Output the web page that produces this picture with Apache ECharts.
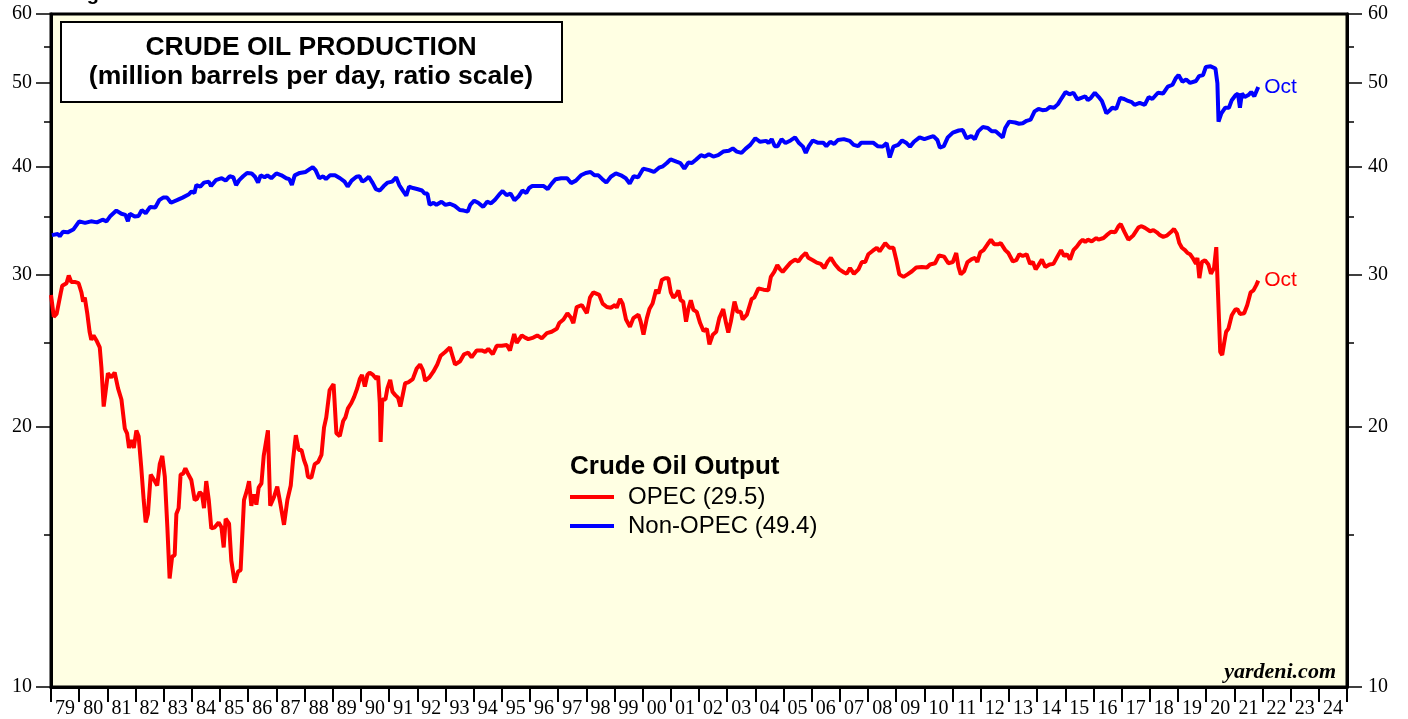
<!DOCTYPE html>
<html>
<head>
<meta charset="utf-8">
<script src="https://cdn.jsdelivr.net/npm/echarts@6.0.0/dist/echarts.min.js"></script>
<style>
  html, body { margin: 0; padding: 0; background: #fff; }
  #chart { width: 1408px; height: 719px; }
</style>
</head>
<body>
<div id="chart"></div>
<script>
// crude oil output, million barrels per day (x = decimal year)
const opecDates = [
  1979.0, 1979.1, 1979.2, 1979.35, 1979.4, 1979.55, 1979.63, 1979.72, 1979.84, 1979.98,
  1980.08, 1980.14, 1980.2, 1980.29, 1980.37, 1980.43, 1980.51, 1980.63, 1980.73, 1980.79,
  1980.87, 1980.93, 1981.02, 1981.14, 1981.26, 1981.32, 1981.38, 1981.5, 1981.62, 1981.7,
  1981.77, 1981.85, 1981.94, 1982.03, 1982.11, 1982.2, 1982.29, 1982.36, 1982.44, 1982.54,
  1982.66, 1982.77, 1982.86, 1982.95, 1983.04, 1983.13, 1983.21, 1983.3, 1983.39, 1983.45,
  1983.53, 1983.6, 1983.69, 1983.77, 1983.86, 1983.98, 1984.1, 1984.18, 1984.28, 1984.36,
  1984.43, 1984.51, 1984.6, 1984.69, 1984.81, 1984.95, 1985.05, 1985.13, 1985.2, 1985.32,
  1985.4, 1985.52, 1985.64, 1985.73, 1985.85, 1985.96, 1986.03, 1986.11, 1986.2, 1986.29,
  1986.37, 1986.47, 1986.55, 1986.7, 1986.78, 1986.92, 1987.03, 1987.14, 1987.27, 1987.39,
  1987.51, 1987.59, 1987.69, 1987.79, 1987.89, 1987.98, 1988.06, 1988.12, 1988.24, 1988.36,
  1988.48, 1988.6, 1988.69, 1988.77, 1988.89, 1989.03, 1989.13, 1989.25, 1989.37, 1989.45,
  1989.54, 1989.66, 1989.76, 1989.87, 1989.96, 1990.04, 1990.14, 1990.23, 1990.31, 1990.43,
  1990.55, 1990.61, 1990.67, 1990.7, 1990.76, 1990.87, 1990.94, 1991.04, 1991.12, 1991.22,
  1991.32, 1991.4, 1991.47, 1991.57, 1991.68, 1991.84, 1991.98, 1992.1, 1992.2, 1992.28,
  1992.43, 1992.57, 1992.71, 1992.83, 1992.99, 1993.16, 1993.34, 1993.52, 1993.66, 1993.81,
  1993.93, 1994.11, 1994.29, 1994.41, 1994.52, 1994.68, 1994.82, 1995.0, 1995.18, 1995.29,
  1995.44, 1995.53, 1995.71, 1995.83, 1995.94, 1996.12, 1996.26, 1996.42, 1996.6, 1996.77,
  1996.95, 1997.04, 1997.19, 1997.33, 1997.45, 1997.54, 1997.66, 1997.84, 1998.02, 1998.13,
  1998.25, 1998.46, 1998.58, 1998.73, 1998.87, 1999.02, 1999.08, 1999.2, 1999.29, 1999.41,
  1999.55, 1999.67, 1999.85, 1999.93, 2000.03, 2000.15, 2000.24, 2000.35, 2000.48, 2000.56,
  2000.68, 2000.8, 2000.91, 2001.0, 2001.09, 2001.19, 2001.27, 2001.35, 2001.44, 2001.54,
  2001.62, 2001.71, 2001.8, 2001.92, 2002.04, 2002.16, 2002.28, 2002.37, 2002.49, 2002.61,
  2002.72, 2002.86, 2002.96, 2003.04, 2003.13, 2003.26, 2003.36, 2003.48, 2003.55, 2003.7,
  2003.87, 2003.96, 2004.11, 2004.29, 2004.46, 2004.55, 2004.67, 2004.78, 2004.88, 2004.97,
  2005.12, 2005.25, 2005.41, 2005.53, 2005.65, 2005.79, 2005.88, 2006.04, 2006.18, 2006.32,
  2006.45, 2006.57, 2006.68, 2006.83, 2006.98, 2007.15, 2007.24, 2007.36, 2007.5, 2007.66,
  2007.78, 2007.9, 2008.01, 2008.17, 2008.31, 2008.41, 2008.61, 2008.76, 2008.9, 2009.02,
  2009.11, 2009.26, 2009.4, 2009.56, 2009.71, 2009.91, 2010.09, 2010.2, 2010.38, 2010.52,
  2010.7, 2010.85, 2011.01, 2011.13, 2011.21, 2011.29, 2011.41, 2011.53, 2011.68, 2011.8,
  2011.88, 2011.98, 2012.1, 2012.24, 2012.36, 2012.48, 2012.63, 2012.71, 2012.87, 2012.98,
  2013.14, 2013.26, 2013.37, 2013.49, 2013.63, 2013.75, 2013.85, 2013.95, 2014.05, 2014.17,
  2014.29, 2014.44, 2014.58, 2014.72, 2014.85, 2014.96, 2015.06, 2015.17, 2015.29, 2015.41,
  2015.53, 2015.62, 2015.71, 2015.8, 2015.94, 2016.1, 2016.18, 2016.36, 2016.47, 2016.62,
  2016.77, 2016.89, 2016.97, 2017.1, 2017.24, 2017.3, 2017.42, 2017.6, 2017.71, 2017.83,
  2018.01, 2018.13, 2018.25, 2018.36, 2018.48, 2018.6, 2018.74, 2018.86, 2018.96, 2019.05,
  2019.14, 2019.25, 2019.34, 2019.43, 2019.52, 2019.57, 2019.64, 2019.69, 2019.76, 2019.85,
  2019.96, 2020.08, 2020.17, 2020.24, 2020.28, 2020.36, 2020.42, 2020.5, 2020.57, 2020.64,
  2020.71, 2020.79, 2020.91, 2021.03, 2021.11, 2021.2, 2021.35, 2021.46, 2021.58, 2021.68,
  2021.78, 2021.85
];
const opecOutput = [
  28.4, 26.8, 27.0, 28.6, 29.1, 29.3, 29.9, 29.4, 29.4, 29.3,
  28.6, 27.9, 28.2, 27.0, 25.75, 25.2, 25.5, 25.1, 24.7, 23.4,
  21.1, 21.85, 23.05, 22.8, 23.1, 23.05, 22.15, 21.5, 19.9, 19.65,
  18.9, 19.3, 18.9, 19.8, 19.5, 18.0, 16.45, 15.5, 15.85, 17.6,
  17.35, 17.1, 18.1, 18.5, 17.5, 15.3, 13.35, 14.15, 14.2, 15.85,
  16.1, 17.6, 17.65, 17.9, 17.65, 17.35, 16.45, 16.5, 16.8, 16.7,
  16.1, 17.3, 16.45, 15.25, 15.3, 15.5, 15.3, 14.5, 15.65, 15.45,
  14.0, 13.2, 13.6, 13.65, 16.45, 16.9, 17.3, 16.2, 16.7, 16.25,
  17.0, 17.2, 18.5, 19.8, 16.2, 16.6, 17.05, 16.3, 15.4, 16.45,
  17.1, 18.3, 19.55, 18.8, 18.8, 18.3, 18.0, 17.5, 17.45, 18.1,
  18.2, 18.55, 19.95, 20.5, 22.05, 22.4, 19.65, 19.5, 20.3, 20.5,
  21.0, 21.3, 21.65, 22.15, 22.7, 22.95, 22.25, 22.95, 23.1, 22.95,
  22.7, 22.9, 21.3, 19.2, 21.5, 21.5, 22.15, 22.65, 21.95, 21.75,
  21.6, 21.1, 21.1, 22.45, 22.5, 22.7, 23.35, 23.6, 23.25, 22.6,
  22.8, 23.15, 23.6, 24.15, 24.4, 24.7, 23.6, 23.8, 24.25, 24.35,
  24.05, 24.5, 24.5, 24.4, 24.6, 24.25, 24.8, 24.8, 24.85, 24.5,
  25.6, 25.0, 25.5, 25.35, 25.25, 25.35, 25.5, 25.3, 25.65, 25.75,
  25.95, 26.35, 26.6, 27.05, 26.75, 26.35, 27.5, 27.65, 27.05, 28.2,
  28.6, 28.4, 27.75, 27.5, 27.45, 27.65, 27.45, 28.1, 27.75, 26.6,
  26.1, 26.7, 26.95, 26.45, 25.55, 26.7, 27.35, 27.75, 28.8, 28.5,
  29.55, 29.7, 29.7, 28.6, 28.2, 28.4, 28.75, 28.0, 27.9, 26.45,
  27.35, 28.0, 27.3, 27.15, 26.35, 25.8, 25.95, 24.9, 25.55, 25.75,
  26.7, 27.35, 26.35, 25.7, 26.45, 27.9, 27.15, 27.15, 26.6, 26.95,
  28.1, 28.2, 28.9, 28.8, 28.75, 29.8, 30.2, 30.75, 30.4, 30.2,
  30.6, 30.95, 31.2, 31.05, 31.45, 31.75, 31.35, 31.15, 30.95, 30.85,
  30.5, 31.05, 31.35, 30.8, 30.4, 30.15, 30.05, 30.5, 30.05, 30.4,
  31.0, 31.0, 31.65, 31.95, 32.2, 31.9, 32.6, 32.2, 32.2, 31.0,
  30.0, 29.8, 30.0, 30.25, 30.55, 30.6, 30.55, 30.8, 30.9, 31.55,
  31.45, 30.9, 31.0, 31.75, 30.6, 30.0, 30.25, 31.0, 31.25, 31.35,
  31.0, 31.8, 32.0, 32.5, 32.9, 32.5, 32.5, 32.6, 32.0, 31.75,
  31.05, 31.15, 31.65, 31.5, 31.65, 30.85, 31.0, 30.4, 30.75, 31.2,
  30.6, 30.8, 30.85, 31.45, 32.0, 31.5, 31.65, 31.2, 32.0, 32.3,
  32.7, 32.9, 32.7, 32.9, 32.75, 33.05, 32.9, 33.05, 33.3, 33.6,
  33.55, 34.1, 34.3, 33.6, 32.9, 32.8, 33.3, 34.0, 34.1, 33.95,
  33.65, 33.75, 33.55, 33.3, 33.15, 33.25, 33.55, 33.85, 33.45, 32.6,
  32.2, 32.0, 31.75, 31.65, 31.35, 31.5, 30.85, 31.35, 29.7, 31.0,
  31.15, 30.8, 30.05, 29.9, 30.5, 32.25, 28.6, 24.4, 24.2, 25.0,
  25.75, 25.95, 26.9, 27.3, 27.35, 27.0, 27.05, 27.65, 28.6, 28.75,
  29.15, 29.5
];

const nonOpecDates = [
  1979.03, 1979.24, 1979.31, 1979.42, 1979.59, 1979.79, 1980.0, 1980.21, 1980.42, 1980.63,
  1980.83, 1980.97, 1981.11, 1981.32, 1981.5, 1981.64, 1981.73, 1981.8, 1981.97, 1982.11,
  1982.22, 1982.36, 1982.52, 1982.7, 1982.84, 1982.98, 1983.12, 1983.26, 1983.47, 1983.67,
  1983.88, 1983.99, 1984.09, 1984.16, 1984.3, 1984.43, 1984.6, 1984.68, 1984.85, 1985.06,
  1985.2, 1985.34, 1985.47, 1985.57, 1985.68, 1985.82, 1985.96, 1986.12, 1986.24, 1986.35,
  1986.44, 1986.58, 1986.68, 1986.82, 1987.0, 1987.18, 1987.35, 1987.46, 1987.55, 1987.65,
  1987.83, 1988.04, 1988.18, 1988.29, 1988.39, 1988.52, 1988.66, 1988.76, 1988.9, 1989.08,
  1989.26, 1989.42, 1989.53, 1989.67, 1989.84, 1989.95, 1990.05, 1990.14, 1990.28, 1990.42,
  1990.53, 1990.67, 1990.81, 1990.95, 1991.11, 1991.25, 1991.36, 1991.5, 1991.61, 1991.71,
  1991.85, 1991.99, 1992.17, 1992.26, 1992.36, 1992.44, 1992.58, 1992.68, 1992.86, 1993.0,
  1993.16, 1993.33, 1993.51, 1993.65, 1993.79, 1993.88, 1994.02, 1994.16, 1994.34, 1994.48,
  1994.62, 1994.76, 1994.94, 1995.03, 1995.17, 1995.31, 1995.45, 1995.59, 1995.73, 1995.87,
  1995.97, 1996.08, 1996.28, 1996.49, 1996.63, 1996.77, 1996.91, 1997.11, 1997.32, 1997.46,
  1997.63, 1997.81, 1997.98, 1998.15, 1998.29, 1998.43, 1998.57, 1998.71, 1998.87, 1999.05,
  1999.23, 1999.4, 1999.54, 1999.68, 1999.84, 2000.02, 2000.23, 2000.4, 2000.58, 2000.72,
  2000.86, 2000.99, 2001.2, 2001.34, 2001.48, 2001.62, 2001.75, 2001.89, 2002.07, 2002.21,
  2002.35, 2002.51, 2002.68, 2002.86, 2003.06, 2003.2, 2003.34, 2003.51, 2003.65, 2003.82,
  2004.0, 2004.17, 2004.38, 2004.47, 2004.58, 2004.69, 2004.79, 2004.93, 2005.07, 2005.25,
  2005.41, 2005.55, 2005.69, 2005.79, 2005.9, 2006.04, 2006.21, 2006.41, 2006.52, 2006.66,
  2006.8, 2006.93, 2007.14, 2007.35, 2007.49, 2007.65, 2007.76, 2007.97, 2008.18, 2008.34,
  2008.52, 2008.66, 2008.77, 2008.9, 2009.07, 2009.21, 2009.35, 2009.49, 2009.63, 2009.83,
  2010.0, 2010.18, 2010.32, 2010.46, 2010.55, 2010.69, 2010.83, 2011.01, 2011.22, 2011.36,
  2011.5, 2011.66, 2011.79, 2011.91, 2012.07, 2012.25, 2012.39, 2012.53, 2012.67, 2012.78,
  2012.87, 2013.01, 2013.22, 2013.36, 2013.49, 2013.63, 2013.77, 2013.91, 2014.05, 2014.19,
  2014.33, 2014.46, 2014.6, 2014.74, 2014.88, 2015.01, 2015.15, 2015.29, 2015.43, 2015.57,
  2015.71, 2015.8, 2015.91, 2016.05, 2016.19, 2016.3, 2016.39, 2016.46, 2016.6, 2016.67,
  2016.81, 2016.95, 2017.09, 2017.23, 2017.36, 2017.46, 2017.64, 2017.82, 2017.96, 2018.09,
  2018.29, 2018.47, 2018.64, 2018.81, 2018.92, 2019.02, 2019.16, 2019.29, 2019.43, 2019.64,
  2019.75, 2019.89, 2019.99, 2020.16, 2020.33, 2020.4, 2020.44, 2020.54, 2020.68, 2020.81,
  2020.91, 2021.05, 2021.13, 2021.2, 2021.27, 2021.37, 2021.5, 2021.6, 2021.71, 2021.85
];
const nonOpecOutput = [
  33.3, 33.4, 33.2, 33.6, 33.55, 33.8, 34.55, 34.4, 34.55, 34.45,
  34.7, 34.55, 35.05, 35.55, 35.25, 35.15, 34.55, 35.25, 35.0, 35.05,
  35.6, 35.3, 35.9, 35.85, 36.55, 36.8, 36.8, 36.3, 36.55, 36.8,
  37.1, 37.4, 37.25, 38.05, 37.9, 38.3, 38.4, 37.95, 38.55, 38.75,
  38.5, 38.95, 38.85, 38.05, 38.55, 38.95, 39.3, 39.25, 38.9, 38.3,
  39.05, 38.85, 39.05, 38.75, 39.25, 39.05, 38.75, 38.65, 38.05, 39.05,
  39.3, 39.4, 39.7, 39.9, 39.6, 38.75, 38.95, 38.65, 39.05, 39.05,
  38.75, 38.4, 37.9, 38.5, 38.9, 38.95, 38.4, 38.55, 38.9, 38.25,
  37.65, 37.5, 37.95, 38.3, 38.4, 38.85, 38.05, 37.45, 37.0, 37.9,
  37.75, 37.65, 37.5, 37.2, 37.2, 36.1, 36.3, 36.1, 36.4, 36.1,
  36.2, 36.0, 35.6, 35.55, 35.45, 36.1, 36.5, 36.3, 35.9, 36.4,
  36.25, 36.6, 37.2, 37.45, 37.05, 37.2, 36.55, 36.9, 37.5, 37.25,
  37.75, 37.95, 37.95, 37.95, 37.65, 38.2, 38.65, 38.75, 38.75, 38.25,
  38.5, 39.05, 39.3, 39.4, 39.05, 39.05, 38.65, 38.3, 38.9, 39.25,
  39.05, 38.75, 38.2, 38.95, 38.85, 39.75, 39.6, 39.4, 39.85, 40.0,
  40.35, 40.75, 40.5, 40.35, 39.75, 40.4, 40.35, 40.7, 41.2, 41.05,
  41.3, 41.05, 41.2, 41.6, 41.7, 41.95, 41.6, 41.45, 41.9, 42.35,
  43.1, 42.7, 42.8, 42.55, 43.0, 42.2, 42.2, 43.0, 42.55, 42.85,
  43.2, 42.55, 42.15, 41.45, 42.2, 42.85, 42.6, 42.6, 42.2, 42.7,
  42.45, 42.9, 43.0, 42.8, 42.35, 42.2, 42.6, 42.6, 42.6, 42.2,
  42.15, 42.55, 40.95, 42.15, 42.35, 42.85, 42.6, 42.15, 42.7, 43.2,
  43.0, 43.2, 43.35, 42.9, 42.05, 42.2, 43.2, 43.75, 44.0, 44.05,
  43.1, 43.35, 43.0, 43.9, 44.4, 44.3, 43.9, 43.9, 43.5, 43.2,
  44.3, 45.05, 44.95, 44.8, 44.85, 45.15, 45.3, 46.3, 46.6, 46.45,
  46.5, 46.85, 46.75, 47.2, 48.0, 48.75, 48.45, 48.65, 47.8, 48.0,
  48.2, 47.7, 48.0, 48.65, 48.1, 47.6, 46.75, 46.05, 46.5, 46.75,
  46.6, 48.0, 47.85, 47.6, 47.45, 47.1, 47.35, 47.1, 48.1, 47.85,
  48.65, 48.55, 49.45, 49.7, 50.55, 51.0, 50.1, 50.4, 49.95, 50.2,
  50.85, 51.0, 52.1, 52.2, 51.9, 49.9, 45.05, 46.05, 46.75, 46.75,
  47.7, 48.35, 48.55, 46.75, 48.55, 48.1, 48.35, 48.75, 48.2, 49.4
];

const firstYear = 1979;
const lastYear = 2024;
const majorTicks = [10, 20, 30, 40, 50, 60];
const minorTicks = [15, 25, 35, 45, 55];
const lastMonth = 'Oct';

const yearStarts = [];
const yearMids = [];
for (let y = firstYear; y <= lastYear; y++) {
  yearStarts.push(y);
  yearMids.push(y + 0.5);
}
yearStarts.push(lastYear + 1);

const pairs = (xs, ys) => xs.map((x, i) => [x, ys[i]]);
const opecName = 'OPEC (' + opecOutput[opecOutput.length - 1].toFixed(1) + ')';
const nonOpecName = 'Non-OPEC (' + nonOpecOutput[nonOpecOutput.length - 1].toFixed(1) + ')';

function ratioAxis(side, ticks, tickLen, withLabels) {
  return {
    type: 'log',
    logBase: 10,
    min: 10,
    max: 60,
    position: side,
    axisLine: { show: withLabels, lineStyle: { color: '#000', width: 3 } },
    axisTick: {
      show: true,
      inside: false,
      length: tickLen,
      customValues: ticks,
      lineStyle: { color: '#000', width: 1.5 }
    },
    axisLabel: {
      show: withLabels,
      customValues: ticks,
      margin: side === 'left' ? 19 : 21,
      fontFamily: 'Liberation Serif',
      fontSize: 20,
      color: '#000',
      formatter: v => String(Math.round(v))
    },
    splitLine: { show: false },
    minorTick: { show: false }
  };
}

const chart = echarts.init(document.getElementById('chart'), null, { renderer: 'canvas' });

chart.setOption({
  animation: false,
  backgroundColor: '#fff',
  grid: {
    left: 51,
    right: 61,
    top: 14,
    bottom: 32,
    show: true,
    backgroundColor: '#ffffe3',
    borderColor: '#000',
    borderWidth: 3
  },
  xAxis: {
    type: 'value',
    min: firstYear,
    max: lastYear + 1,
    position: 'bottom',
    axisLine: { show: true, onZero: false, lineStyle: { color: '#000', width: 3 } },
    axisTick: { show: true, length: 15, customValues: yearStarts, lineStyle: { color: '#000', width: 2 } },
    axisLabel: {
      customValues: yearMids,
      margin: 12,
      fontFamily: 'Liberation Serif',
      fontSize: 20,
      color: '#000',
      formatter: v => String(Math.floor(v) % 100).padStart(2, '0')
    },
    splitLine: { show: false }
  },
  yAxis: [
    ratioAxis('left', majorTicks, 15, true),
    ratioAxis('right', majorTicks, 15, true),
    ratioAxis('left', minorTicks, 7, false),
    ratioAxis('right', minorTicks, 7, false)
  ],
  legend: {
    orient: 'vertical',
    left: 570,
    top: 485,
    padding: 0,
    icon: 'rect',
    itemWidth: 44,
    itemHeight: 4,
    itemGap: 5,
    selectedMode: false,
    textStyle: {
      fontFamily: 'Liberation Sans',
      fontSize: 24,
      lineHeight: 24,
      color: '#000',
      padding: [0, 0, 0, 9]
    },
    data: [opecName, nonOpecName]
  },
  series: [
    {
      name: opecName,
      type: 'line',
      data: pairs(opecDates, opecOutput),
      showSymbol: false,
      silent: true,
      color: '#ff0000',
      lineStyle: { color: '#ff0000', width: 4 },
      endLabel: { show: true, formatter: lastMonth, color: '#ff0000', fontFamily: 'Liberation Sans', fontSize: 21, distance: 6 }
    },
    {
      name: nonOpecName,
      type: 'line',
      data: pairs(nonOpecDates, nonOpecOutput),
      showSymbol: false,
      silent: true,
      color: '#0000ff',
      lineStyle: { color: '#0000ff', width: 4 },
      endLabel: { show: true, formatter: lastMonth, color: '#0000ff', fontFamily: 'Liberation Sans', fontSize: 21, distance: 6 }
    }
  ],
  graphic: [
    {
      type: 'text', x: 69, y: -16, z: 10,
      style: { text: 'Figure', font: 'bold 20px "Liberation Sans"', fill: '#000', verticalAlign: 'top' }
    },
    {
      type: 'rect', z: 10,
      shape: { x: 61, y: 22, width: 501, height: 80 },
      style: { fill: '#fff', stroke: '#000', lineWidth: 2 }
    },
    {
      type: 'text', x: 311, y: 48, z: 11,
      style: { text: 'CRUDE OIL PRODUCTION', font: 'bold 26.5px "Liberation Sans"', fill: '#000', align: 'center', verticalAlign: 'middle' }
    },
    {
      type: 'text', x: 311, y: 77, z: 11,
      style: { text: '(million barrels per day, ratio scale)', font: 'bold 26.5px "Liberation Sans"', fill: '#000', align: 'center', verticalAlign: 'middle' }
    },
    {
      type: 'text', x: 570, y: 467, z: 10,
      style: { text: 'Crude Oil Output', font: 'bold 26px "Liberation Sans"', fill: '#000', verticalAlign: 'middle' }
    },
    {
      type: 'text', x: 1336, y: 672, z: 10,
      style: { text: 'yardeni.com', font: 'italic bold 22px "Liberation Serif"', fill: '#000', align: 'right', verticalAlign: 'middle' }
    }
  ]
});
</script>
</body>
</html>
